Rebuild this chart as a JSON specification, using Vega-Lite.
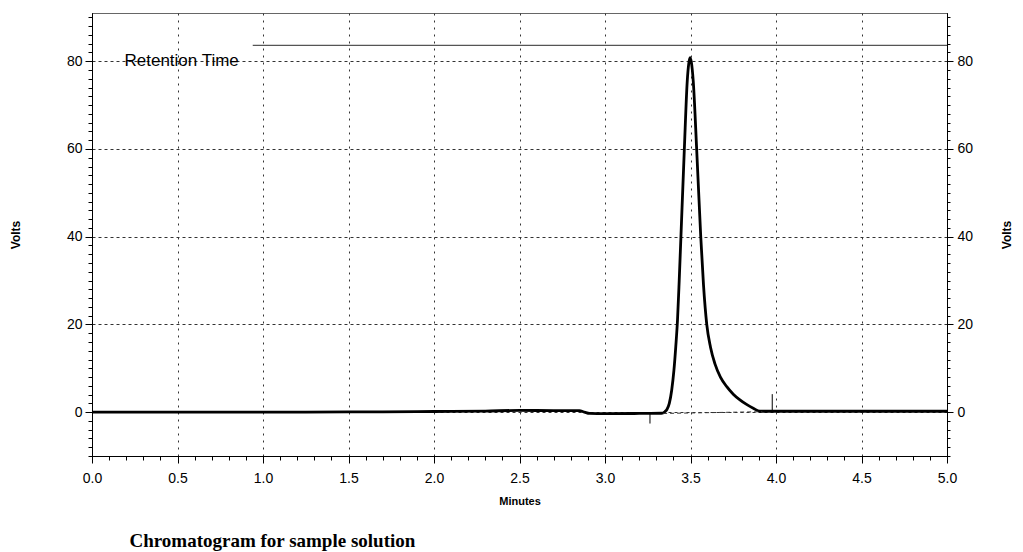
{
  "$schema": "https://vega.github.io/schema/vega-lite/v6.json",
  "width": 855,
  "height": 443,
  "autosize": {"type": "none"},
  "padding": {"left": 92, "top": 13, "right": 76, "bottom": 96},
  "background": "white",
  "view": {"stroke": "#666", "strokeWidth": 1},
  "title": {
    "text": "Chromatogram for sample solution",
    "orient": "bottom",
    "anchor": "start",
    "dx": 120,
    "offset": 26,
    "font": "Liberation Serif",
    "fontSize": 19,
    "fontWeight": "bold",
    "color": "#000"
  },
  "config": {
    "axis": {
      "domainColor": "#000",
      "tickColor": "#000",
      "labelColor": "#000",
      "titleColor": "#000",
      "labelFont": "Liberation Sans",
      "titleFont": "Liberation Sans"
    }
  },
  "datasets": {
    "trace": [
      {"t": 0.0, "v": 0.0},
      {"t": 0.5, "v": 0.0},
      {"t": 1.0, "v": 0.0},
      {"t": 1.5, "v": 0.05},
      {"t": 1.7, "v": 0.05},
      {"t": 2.0, "v": 0.15},
      {"t": 2.3, "v": 0.25},
      {"t": 2.5, "v": 0.4},
      {"t": 2.7, "v": 0.35},
      {"t": 2.85, "v": 0.35},
      {"t": 2.88, "v": 0.0},
      {"t": 2.91, "v": -0.3},
      {"t": 3.0, "v": -0.35},
      {"t": 3.2, "v": -0.3},
      {"t": 3.33, "v": -0.25},
      {"t": 3.35, "v": 0.1},
      {"t": 3.362, "v": 0.6},
      {"t": 3.376, "v": 2.0},
      {"t": 3.39, "v": 5.0},
      {"t": 3.403, "v": 9.5},
      {"t": 3.414, "v": 15.0},
      {"t": 3.424, "v": 21.0},
      {"t": 3.434, "v": 30.0},
      {"t": 3.444, "v": 40.0},
      {"t": 3.464, "v": 60.0},
      {"t": 3.481, "v": 75.5},
      {"t": 3.49, "v": 79.5},
      {"t": 3.497, "v": 80.8},
      {"t": 3.505, "v": 79.8},
      {"t": 3.516, "v": 75.5},
      {"t": 3.536, "v": 60.0},
      {"t": 3.56, "v": 40.0},
      {"t": 3.576, "v": 29.0},
      {"t": 3.595, "v": 20.0},
      {"t": 3.617, "v": 14.8},
      {"t": 3.643, "v": 11.0},
      {"t": 3.675, "v": 8.0},
      {"t": 3.712, "v": 5.8},
      {"t": 3.75, "v": 4.1},
      {"t": 3.789, "v": 2.8},
      {"t": 3.83, "v": 1.7},
      {"t": 3.867, "v": 0.9},
      {"t": 3.906, "v": 0.2},
      {"t": 4.0, "v": 0.2},
      {"t": 4.5, "v": 0.2},
      {"t": 5.0, "v": 0.2}
    ],
    "markers": [
      {"t": 3.263, "y1": -0.3, "y2": -2.6},
      {"t": 3.978, "y1": 0.3, "y2": 4.1}
    ],
    "baseline": [
      {"t1": 3.34, "t2": 3.92, "y1": -0.3, "y2": 0.1}
    ],
    "retention": [
      {"t1": 0.94, "t2": 5.0, "y": 83.6, "label": "Retention Time", "tl": 0.19, "yl": 80}
    ]
  },
  "resolve": {"axis": {"x": "independent", "y": "independent"}},
  "layer": [
    {
      "data": {"name": "trace"},
      "mark": {"type": "line", "color": "#000", "strokeWidth": 2.8, "interpolate": "monotone"},
      "encoding": {
        "x": {
          "field": "t", "type": "quantitative",
          "scale": {"domain": [0, 5], "nice": false, "zero": false},
          "axis": {
            "orient": "bottom",
            "values": [0, 0.5, 1, 1.5, 2, 2.5, 3, 3.5, 4, 4.5, 5],
            "format": ".1f",
            "labelFontSize": 14,
            "labelPadding": 8,
            "labelFlush": false,
            "tickSize": 7,
            "grid": true,
            "gridDash": [2, 5],
            "gridColor": "#333",
            "gridWidth": 1,
            "title": "Minutes",
            "titleFontSize": 11,
            "titleFontWeight": "bold",
            "titlePadding": 10
          }
        },
        "y": {
          "field": "v", "type": "quantitative",
          "scale": {"domain": [-10, 91], "nice": false, "zero": false},
          "axis": {
            "orient": "left",
            "values": [0, 20, 40, 60, 80],
            "labelFontSize": 14,
            "labelPadding": 3,
            "tickSize": 7,
            "grid": true,
            "gridDash": [3, 3],
            "gridColor": "#333",
            "gridWidth": 1,
            "title": "Volts",
            "titleFontSize": 12,
            "titleFontWeight": "bold",
            "titlePadding": 44
          }
        }
      }
    },
    {
      "data": {"name": "markers"},
      "mark": {"type": "rule", "color": "#000", "strokeWidth": 1},
      "encoding": {
        "x": {
          "field": "t", "type": "quantitative",
          "scale": {"domain": [0, 5], "nice": false, "zero": false},
          "axis": {
            "orient": "bottom",
            "values": [0,0.1,0.2,0.3,0.4,0.5,0.6,0.7,0.8,0.9,1,1.1,1.2,1.3,1.4,1.5,1.6,1.7,1.8,1.9,2,2.1,2.2,2.3,2.4,2.5,2.6,2.7,2.8,2.9,3,3.1,3.2,3.3,3.4,3.5,3.6,3.7,3.8,3.9,4,4.1,4.2,4.3,4.4,4.5,4.6,4.7,4.8,4.9,5],
            "labels": false,
            "grid": false,
            "tickSize": 4,
            "title": null
          }
        },
        "y": {
          "field": "y1", "type": "quantitative",
          "scale": {"domain": [-10, 91], "nice": false, "zero": false},
          "axis": {
            "orient": "left",
            "values": [-10,-8,-6,-4,-2,0,2,4,6,8,10,12,14,16,18,20,22,24,26,28,30,32,34,36,38,40,42,44,46,48,50,52,54,56,58,60,62,64,66,68,70,72,74,76,78,80,82,84,86,88,90],
            "labels": false,
            "grid": false,
            "tickSize": 4,
            "title": null
          }
        },
        "y2": {"field": "y2"}
      }
    },
    {
      "data": {"name": "baseline"},
      "mark": {"type": "rule", "color": "#333", "strokeWidth": 1, "strokeDash": [4, 3]},
      "encoding": {
        "x": {"field": "t1", "type": "quantitative", "scale": {"domain": [0, 5], "nice": false, "zero": false}, "axis": null},
        "x2": {"field": "t2"},
        "y": {"field": "y1", "type": "quantitative", "scale": {"domain": [-10, 91], "nice": false, "zero": false}, "axis": null},
        "y2": {"field": "y2"}
      }
    },
    {
      "data": {"name": "retention"},
      "mark": {"type": "rule", "color": "#555", "strokeWidth": 1.2},
      "encoding": {
        "x": {"field": "t1", "type": "quantitative", "scale": {"domain": [0, 5], "nice": false, "zero": false}, "axis": null},
        "x2": {"field": "t2"},
        "y": {
          "field": "y", "type": "quantitative",
          "scale": {"domain": [-10, 91], "nice": false, "zero": false},
          "axis": {
            "orient": "right",
            "values": [0, 20, 40, 60, 80],
            "labelFontSize": 14,
            "labelPadding": 4,
            "tickSize": 6,
            "grid": false,
            "title": "Volts",
            "titleAngle": 270,
            "titleFontSize": 12,
            "titleFontWeight": "bold",
            "titlePadding": 41
          }
        }
      }
    },
    {
      "data": {"name": "retention"},
      "mark": {"type": "text", "color": "#000", "font": "Liberation Sans", "fontSize": 17, "align": "left", "baseline": "middle"},
      "encoding": {
        "x": {"field": "tl", "type": "quantitative", "scale": {"domain": [0, 5], "nice": false, "zero": false}, "axis": null},
        "y": {
          "field": "yl", "type": "quantitative",
          "scale": {"domain": [-10, 91], "nice": false, "zero": false},
          "axis": {
            "orient": "right",
            "values": [-10,-8,-6,-4,-2,0,2,4,6,8,10,12,14,16,18,20,22,24,26,28,30,32,34,36,38,40,42,44,46,48,50,52,54,56,58,60,62,64,66,68,70,72,74,76,78,80,82,84,86,88,90],
            "labels": false,
            "grid": false,
            "tickSize": 3,
            "title": null
          }
        },
        "text": {"field": "label"}
      }
    }
  ]
}
